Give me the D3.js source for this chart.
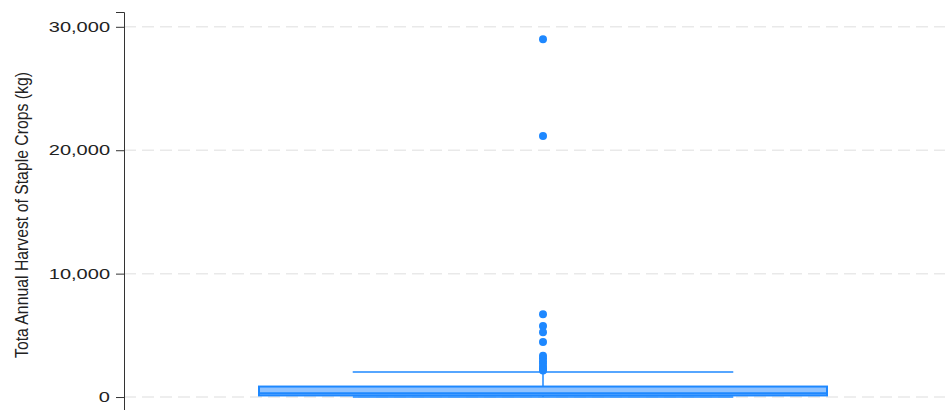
<!DOCTYPE html>
<meta charset="utf-8">
<style>
body { margin: 0; background: #fff; }
svg text { font-family: "Liberation Sans", Arial, sans-serif; fill: #222; }
</style>
<body>
<script src="https://cdn.jsdelivr.net/npm/d3@7"></script>
<script>
// box summary (kg)
var groups = ["all"];
var lowerWhisker = [0];
var q1 = [130];
var median = [300];
var q3 = [850];
var upperWhisker = [2030];
var outliers = [29000, 21150, 6700, 5750, 5250, 4450, 3350, 3150, 2900, 2700, 2450, 2300, 2150];
var yTicks = [0, 10000, 20000, 30000];

var width = 950,
    height = 410;

var svg = d3.select("body").append("svg")
    .attr("width", width)
    .attr("height", height);

var y = d3.scaleLinear()
    .domain([-1050, 31200])
    .range([410, 12]);

var x = d3.scaleBand()
    .domain(groups)
    .range([259, 827]);

var blue = "#1e88ff";

// gridlines
svg.append("g").selectAll("line")
    .data(yTicks)
  .enter().append("line")
    .attr("x1", 124).attr("x2", 945)
    .attr("y1", d => y(d)).attr("y2", d => y(d))
    .attr("stroke", "#e9e9e9")
    .attr("stroke-width", 1.5)
    .attr("stroke-dasharray", "12,6");

// y axis
var axis = svg.append("g")
    .attr("transform", "translate(124,0)")
    .call(d3.axisLeft(y).tickValues(yTicks).tickSize(8).tickPadding(6).tickFormat(d3.format(",")));
axis.select(".domain").attr("stroke", "#333");
axis.selectAll(".tick line").attr("stroke", "#333");
axis.selectAll(".tick text")
    .attr("font-size", 14.5)
    .attr("fill", "#111")
    .each(function() {
      var t = d3.select(this);
      var w = this.getComputedTextLength();
      t.attr("textLength", w * 1.38).attr("lengthAdjust", "spacingAndGlyphs");
    });

// y label
svg.append("text")
    .attr("transform", "translate(28,215) rotate(-90)")
    .attr("text-anchor", "middle")
    .attr("font-size", 18)
    .attr("fill", "#111")
    .attr("textLength", 286)
    .attr("lengthAdjust", "spacingAndGlyphs")
    .text("Tota Annual Harvest of Staple Crops (kg)");

// box plot
var g = svg.append("g");
groups.forEach(function(k, i) {
  var x0 = x(k), bw = x.bandwidth(), cx = x0 + bw / 2;
  var ww = bw * 0.67;

  // whisker stems
  g.append("line")
      .attr("x1", cx).attr("x2", cx)
      .attr("y1", y(q3[i])).attr("y2", y(upperWhisker[i]))
      .attr("stroke", blue).attr("stroke-width", 1.5);
  g.append("line")
      .attr("x1", cx).attr("x2", cx)
      .attr("y1", y(q1[i])).attr("y2", y(lowerWhisker[i]))
      .attr("stroke", blue).attr("stroke-width", 1.5);

  // whisker caps
  [upperWhisker[i], lowerWhisker[i]].forEach(function(v) {
    g.append("line")
        .attr("x1", cx - ww / 2).attr("x2", cx + ww / 2)
        .attr("y1", y(v)).attr("y2", y(v))
        .attr("stroke", blue).attr("stroke-width", 1.5);
  });

  // box
  g.append("rect")
      .attr("x", x0).attr("width", bw)
      .attr("y", y(q3[i])).attr("height", y(q1[i]) - y(q3[i]))
      .attr("fill", "#8fc2ff")
      .attr("stroke", blue).attr("stroke-width", 2);

  g.append("line")
      .attr("x1", x0).attr("x2", x0 + bw)
      .attr("y1", y(median[i])).attr("y2", y(median[i]))
      .attr("stroke", blue).attr("stroke-width", 2);

  // outliers
  g.selectAll(null)
      .data(outliers)
    .enter().append("circle")
      .attr("cx", cx)
      .attr("cy", d => y(d))
      .attr("r", 4)
      .attr("fill", blue);
});
</script>
</body>
</html>
